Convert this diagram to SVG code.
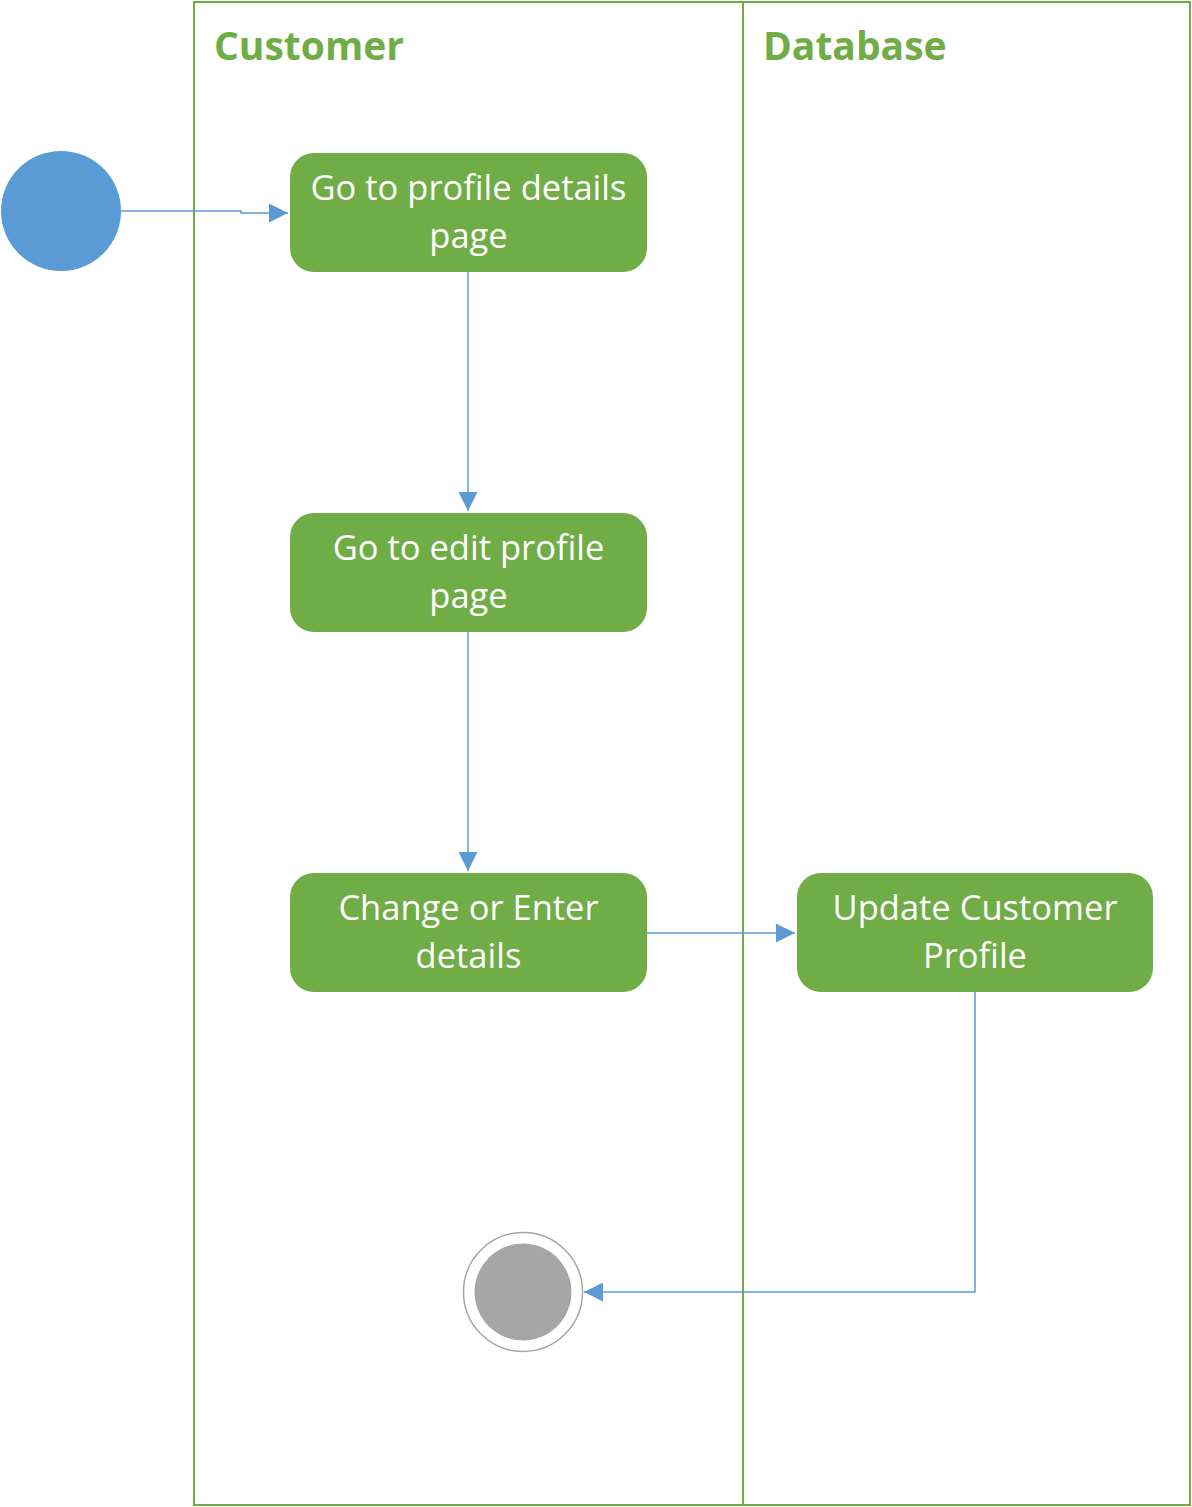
<svg xmlns="http://www.w3.org/2000/svg" width="1192" height="1507" viewBox="0 0 1192 1507">
<style>
.lane{fill:none;stroke:#70ad47;stroke-width:2}
.title{font-family:"Open Sans",sans-serif;font-weight:bold;font-size:39px;fill:#70ad47}
.act{fill:#70ad47}
.lbl{font-family:"Open Sans",sans-serif;font-size:34.5px;fill:#ffffff;text-anchor:middle}
.conn{fill:none;stroke:#5b9bd5;stroke-width:1.5}
</style>
<defs>
<marker id="arr" viewBox="0 0 10 10" refX="10" refY="5" markerWidth="19" markerHeight="19" markerUnits="userSpaceOnUse" orient="auto">
<path d="M0,0 L10,5 L0,10 z" fill="#5b9bd5"/>
</marker>
</defs>
<g id="pool">
<rect class="lane" x="194" y="2" width="996" height="1503"/>
<line class="lane" x1="743" y1="2" x2="743" y2="1505"/>
<text class="title" x="214" y="60">Customer</text>
<text class="title" x="763" y="60">Database</text>
</g>
<g id="connectors">
<path class="conn" d="M121,211 H241 V213 H288" marker-end="url(#arr)"/>
<path class="conn" d="M468,272 V511" marker-end="url(#arr)"/>
<path class="conn" d="M468,632 V871" marker-end="url(#arr)"/>
<path class="conn" d="M647,933 H795" marker-end="url(#arr)"/>
<path class="conn" d="M975,992 V1292 H584" marker-end="url(#arr)"/>
</g>
<g id="start"><circle cx="61" cy="211" r="60" fill="#5b9bd5"/></g>
<g id="n1"><rect class="act" x="290" y="153" width="357" height="119" rx="24"/>
<text class="lbl" x="468.5" y="200">Go to profile details</text><text class="lbl" x="468.5" y="248">page</text></g>
<g id="n2"><rect class="act" x="290" y="513" width="357" height="119" rx="24"/>
<text class="lbl" x="468.5" y="560">Go to edit profile</text><text class="lbl" x="468.5" y="608">page</text></g>
<g id="n3"><rect class="act" x="290" y="873" width="357" height="119" rx="24"/>
<text class="lbl" x="468.5" y="920">Change or Enter</text><text class="lbl" x="468.5" y="968">details</text></g>
<g id="n4"><rect class="act" x="797" y="873" width="356" height="119" rx="24"/>
<text class="lbl" x="975" y="920">Update Customer</text><text class="lbl" x="975" y="968">Profile</text></g>
<g id="end"><circle cx="523" cy="1292" r="59.5" fill="#ffffff" stroke="#a6a6a6" stroke-width="1.5"/><circle cx="523" cy="1292" r="48.5" fill="#a6a6a6"/></g>
</svg>
